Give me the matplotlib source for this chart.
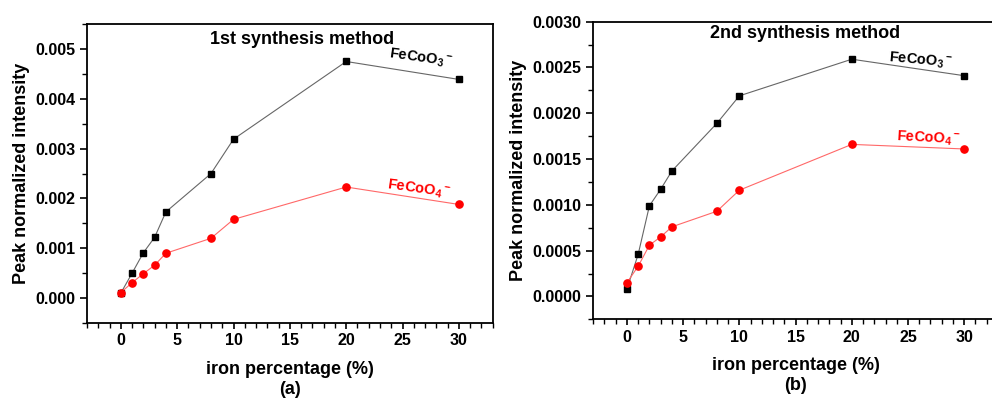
import matplotlib
matplotlib.use("Agg")
import matplotlib.pyplot as plt
from matplotlib.ticker import MultipleLocator, FormatStrFormatter

plt.rcParams['font.family'] = ['Liberation Sans', 'DejaVu Sans']
plt.rcParams['font.weight'] = 'bold'
plt.rcParams['mathtext.fontset'] = 'custom'
plt.rcParams['mathtext.rm'] = 'Liberation Sans:bold'
plt.rcParams['mathtext.it'] = 'Liberation Sans:bold'
plt.rcParams['mathtext.bf'] = 'Liberation Sans:bold'

iron_pct = [0, 1, 2, 3, 4, 8, 10, 20, 30]

m1_feco3 = [0.00010, 0.00050, 0.00091, 0.00122, 0.00173, 0.00250, 0.00319, 0.00475, 0.00439]
m1_feco4 = [0.00011, 0.00031, 0.00049, 0.00066, 0.00090, 0.00120, 0.00158, 0.00223, 0.00188]

m2_feco3 = [0.00008, 0.00046, 0.00099, 0.00117, 0.00137, 0.00189, 0.00219, 0.00259, 0.00241]
m2_feco4 = [0.00015, 0.00033, 0.00056, 0.00065, 0.00076, 0.00093, 0.00116, 0.00166, 0.00161]

titles = ["1st synthesis method", "2nd synthesis method"]
panel_tags = ["(a)", "(b)"]
lab3 = r'FeCoO$_3\,{}^{-}$'
lab4 = r'FeCoO$_4\,{}^{-}$'

fig = plt.figure(figsize=(9.92, 3.99), dpi=100)
ax1 = fig.add_axes([0.0877, 0.1905, 0.409, 0.749])
ax2 = fig.add_axes([0.598, 0.1997, 0.408, 0.746])

def style(ax, ymaj, ymin, fmt):
    ax.set_xlim(-3, 33)
    ax.xaxis.set_major_locator(MultipleLocator(5))
    ax.xaxis.set_minor_locator(MultipleLocator(1))
    ax.yaxis.set_major_locator(MultipleLocator(ymaj))
    ax.yaxis.set_minor_locator(MultipleLocator(ymin))
    ax.yaxis.set_major_formatter(FormatStrFormatter(fmt))
    ax.tick_params(which='major', direction='out', length=5, width=1.2, labelsize=11.5)
    ax.tick_params(which='minor', direction='out', length=3.5, width=1)
    ax.tick_params(axis='x', which='major', length=4)
    for lbl in ax.get_xticklabels() + ax.get_yticklabels():
        lbl.set_fontweight('bold')
    for s in ax.spines.values():
        s.set_linewidth(1.3)
    ax.set_ylabel("Peak normalized intensity", fontsize=13, fontweight='bold')

for ax, a, b, tag in [(ax1, m1_feco3, m1_feco4, panel_tags[0]),
                      (ax2, m2_feco3, m2_feco4, panel_tags[1])]:
    ax.plot(iron_pct, a, '-', color='#666666', lw=0.8, marker='s', ms=4.3,
            mfc='black', mec='black', zorder=3)
    ax.plot(iron_pct, b, '-', color='#ff6868', lw=0.8, marker='o', ms=5.2,
            mfc='red', mec='red', zorder=3)
    ax.set_xlabel("iron percentage (%)\n" + tag, fontsize=13, fontweight='bold',
                  linespacing=1.25, labelpad=9)

ax1.set_ylim(-0.0005, 0.0055)
style(ax1, 0.001, 0.0005, '%.3f')
ax2.set_ylim(-0.00025, 0.003)
style(ax2, 0.0005, 0.00025, '%.4f')

ax1.text(16.1, 0.00519, titles[0], ha='center', va='center', fontsize=13, fontweight='bold')
ax2.text(15.8, 0.00287, titles[1], ha='center', va='center', fontsize=13, fontweight='bold')

ax1.text(26.6, 0.00482, lab3, ha='center', va='center', fontsize=10.5, rotation=-8, color='black')
ax1.text(26.4, 0.00219, lab4, ha='center', va='center', fontsize=10.5, rotation=-8, color='red')
ax2.text(26.1, 0.00258, lab3, ha='center', va='center', fontsize=10.5, rotation=-5, color='black')
ax2.text(26.8, 0.00172, lab4, ha='center', va='center', fontsize=10.5, rotation=-3, color='red')

fig.savefig("out.png", dpi=100)
